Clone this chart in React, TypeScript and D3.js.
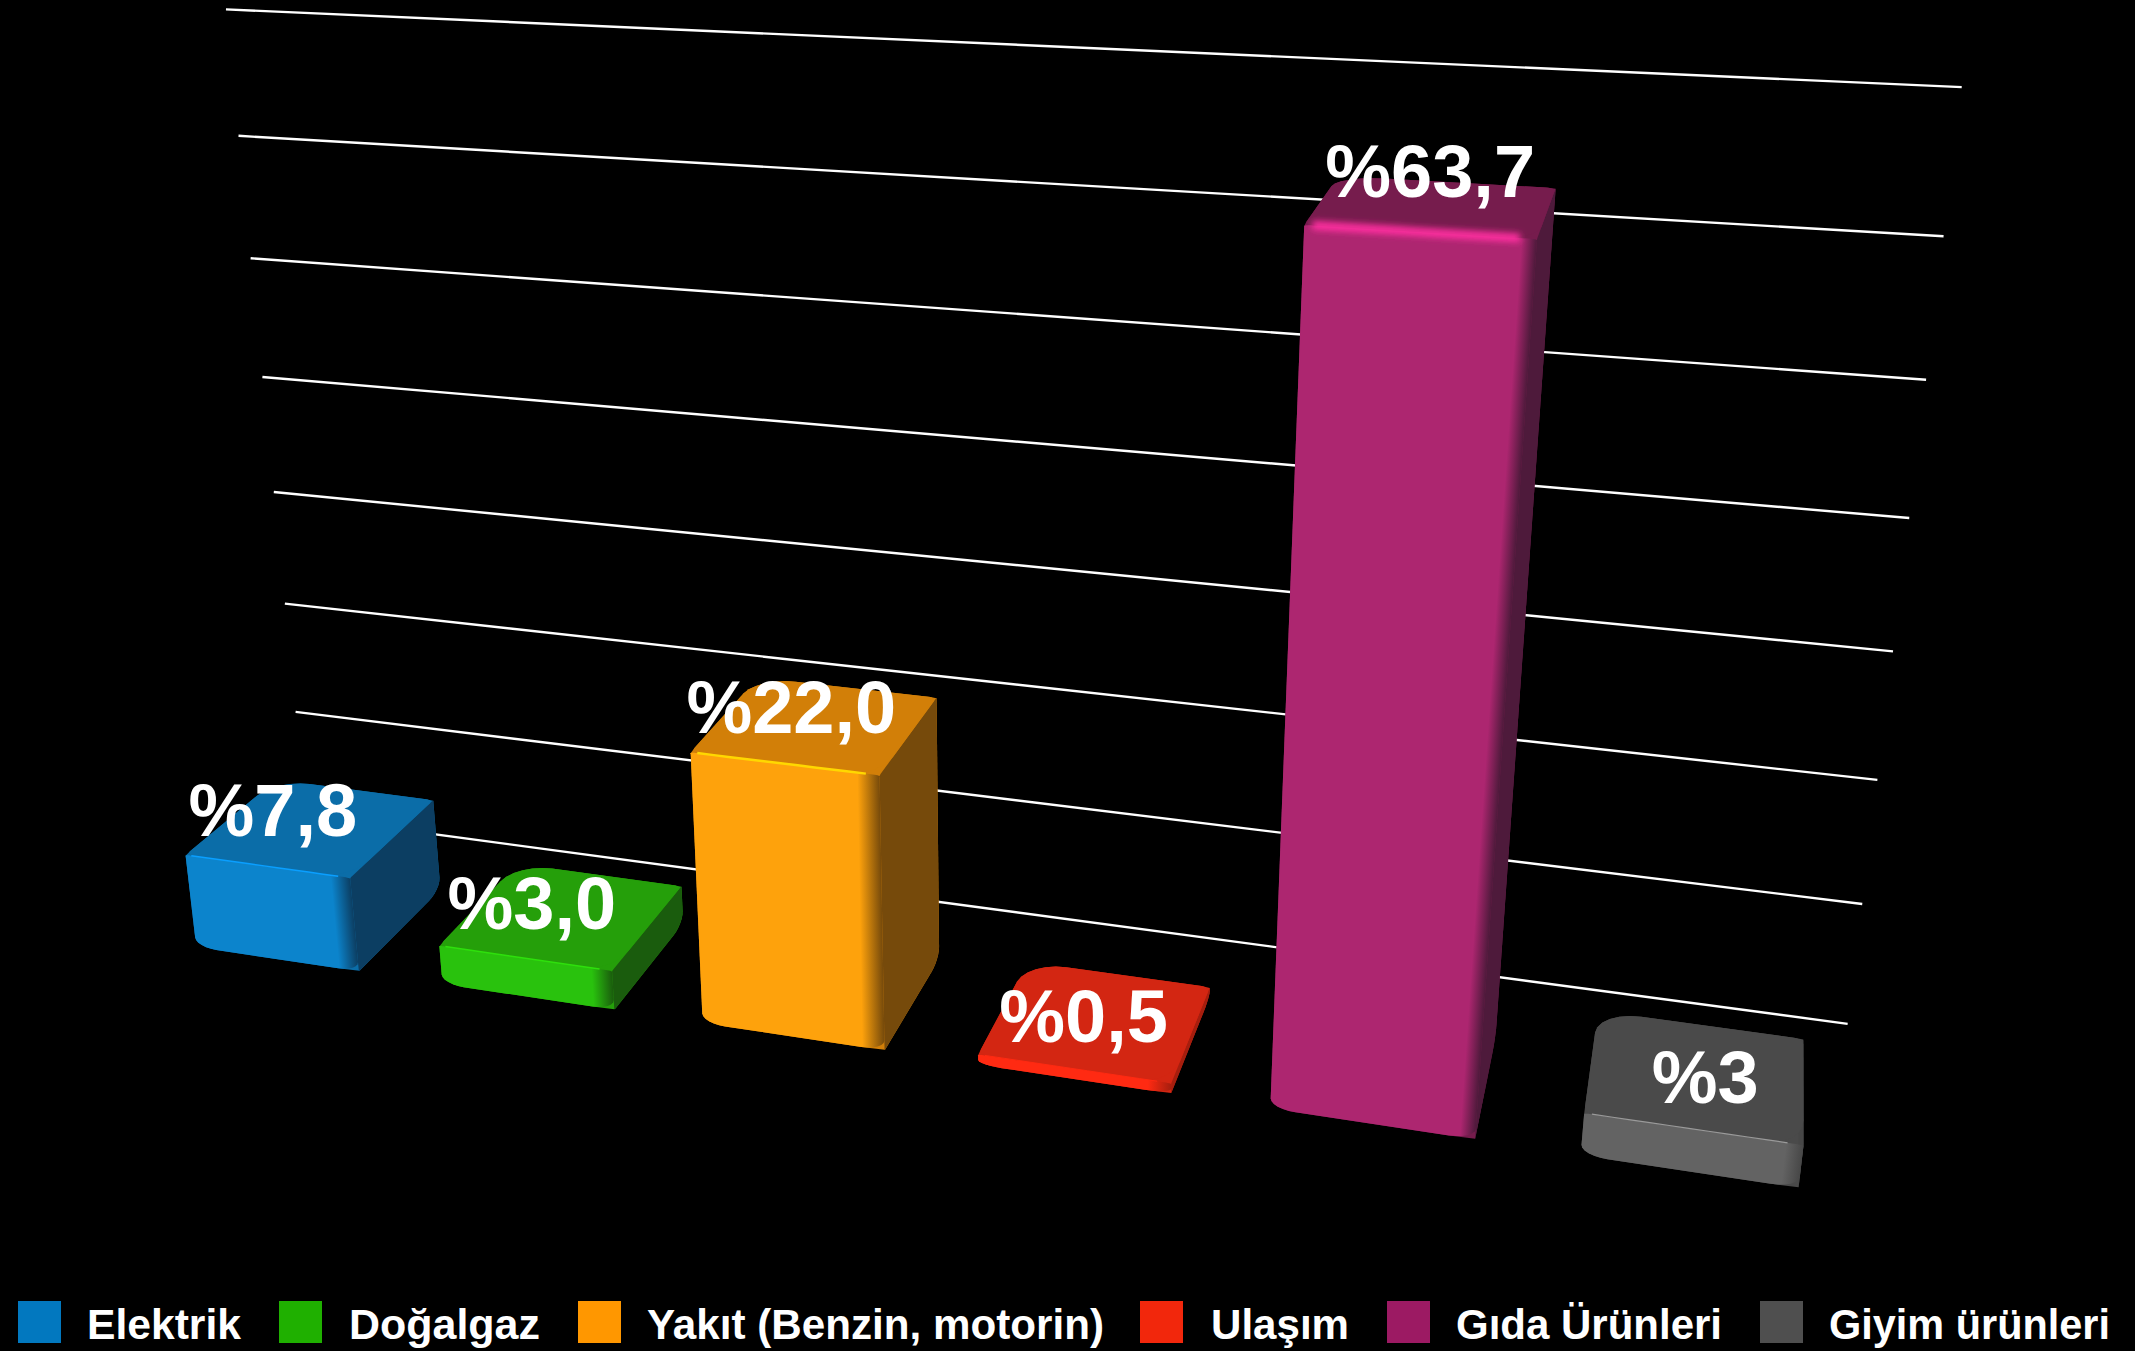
import React from "react";
import * as d3 from "d3";

const categories = ["Elektrik", "Doğalgaz", "Yakıt (Benzin, motorin)", "Ulaşım", "Gıda Ürünleri", "Giyim ürünleri"];
const values = [7.8, 3.0, 22.0, 0.5, 63.7, 3];
const valueLabels = ["%7,8", "%3,0", "%22,0", "%0,5", "%63,7", "%3"];
const gridValues = [0, 10, 20, 30, 40, 50, 60, 70];

const legendColors = ["#0278bf", "#1fb000", "#ff9700", "#f2270c", "#9c1a63", "#4f4f4f"];
const frontColors = ["#0c84cc", "#29c20d", "#fea20c", "#ff2a12", "#ad2670", "#636363"];
const topColors = ["#0b6da8", "#259f0a", "#d27f08", "#d32612", "#761c4d", "#4a4a4a"];
const sideColors = ["#0c3e62", "#1a5c0d", "#764a0b", "#a61e0e", "#4e1a3b", "#474747"];
const edgeColors = ["#0a9fff", "#2ee00c", "#ffd800", "#ff2a12", "#ff2fa0", "#9a9a9a"];
const edgeWidths = [1.5, 1.5, 2.5, 1, 9, 1.2];
const shadeStart = [0.88, 0.88, 0.88, 0.88, 0.93, 0.92];

// layout
const W = 2135, H = 1351;
const labelDx = [-39, -31, -25, -13, -3, 9];
const labelDy = [9, 14, 8.5, 22, -9, 28];
const legendSwatchX = [18, 279, 578, 1140, 1387, 1760];
const legendTextX = [87, 349, 647, 1211, 1456, 1829];
const legendTextW = [154, 191, 457, 138, 266, 281];

// perspective camera: origin + vanishing points
const O = [306, 817];
const VX = [-8690, -390], VY = [1009, 7912], VZ = [1800, -480];
const A = -0.1463, B = -0.1022;
const project = (x: number, y: number, z: number): [number, number] => {
  const w = 1 + A * x + B * y + z;
  return [
    (O[0] + A * VX[0] * x + B * VY[0] * y + z * VZ[0]) / w,
    (O[1] + A * VX[1] * x + B * VY[1] * y + z * VZ[1]) / w,
  ];
};

const yScale = d3.scaleLinear().domain([0, 70]).range([0, 1]);
const xBand = d3.scaleBand<string>().domain(categories).range([0.021, 0.973]).paddingInner(1 / 3).paddingOuter(0);
const zFront = -0.0857, zBack = -0.032, baseY = -0.005;
const line = d3.line();

type Radii = [number, number, number, number];
// rounded rectangle in parameter space; corners: [u0v0, u1v0, u1v1, u0v1]
function roundRect(u0: number, u1: number, v0: number, v1: number, ru: Radii, rv: Radii) {
  const pts: [number, number][] = [];
  const corner = (cu: number, cv: number, r: number, s: number, a0: number) => {
    for (const t of d3.range(0, 1.0001, 1 / 6)) {
      const an = a0 + (t * Math.PI) / 2;
      pts.push([cu + r * Math.cos(an), cv + s * Math.sin(an)]);
    }
  };
  corner(u0 + ru[0], v0 + rv[0], ru[0], rv[0], Math.PI);
  corner(u1 - ru[1], v0 + rv[1], ru[1], rv[1], Math.PI * 1.5);
  corner(u1 - ru[2], v1 - rv[2], ru[2], rv[2], 0);
  corner(u0 + ru[3], v1 - rv[3], ru[3], rv[3], Math.PI / 2);
  return pts;
}
const closed = (pts: [number, number][]) => line(pts) + "Z";

function Bar({ i }: { i: number }) {
  const cat = categories[i];
  const Y = yScale(values[i]);
  const xl = xBand(cat) as number;
  const xr = xl + xBand.bandwidth();
  const lim = Math.min((Y - baseY) * 0.45, 0.012);

  const top = roundRect(xl, xr, zFront, zBack,
    [0.005, 0.016, 0.005, 0.024], [0.003, 0.012, 0.003, 0.012]
  ).map(([u, v]) => project(u, Y, v));

  const frontPts = roundRect(xl, xr, baseY, Y, [0.014, 0.014, 0.004, 0.004], [lim, lim, 0.001, 0.001])
    .map(([u, v]) => project(u, v, zFront));

  const side = roundRect(zFront, zBack, baseY, Y, [0.001, 0.008, 0.001, 0.001], [0.001, lim * 1.3, 0.001, 0.001])
    .map(([z, v]) => project(xr, v, z));

  const hull = d3.polygonHull([...top, ...frontPts, ...side]) as [number, number][];
  const edge = d3.range(0, 1.0001, 0.1).map((t) => project(xl + 0.004 + (xr - xl - 0.012) * t, Y, zFront));

  // shade runs perpendicular to the bar's right edge
  const e0 = project(xr, baseY, zFront), e1 = project(xr, Y, zFront);
  const gA = project(xl, (Y + baseY) / 2, zFront), gB = project(xr, (Y + baseY) / 2, zFront);
  const ex = e1[0] - e0[0], ey = e1[1] - e0[1], el = Math.hypot(ex, ey);
  const nx = -ey / el, ny = ex / el;
  const d = (gB[0] - gA[0]) * nx + (gB[1] - gA[1]) * ny;
  const gid = `f${i}`;
  return (
    <g>
      <defs>
        <linearGradient id={gid} gradientUnits="userSpaceOnUse" x1={gA[0]} y1={gA[1]} x2={gA[0] + nx * d} y2={gA[1] + ny * d}>
          <stop offset="0" stopColor={frontColors[i]} />
          <stop offset={shadeStart[i]} stopColor={frontColors[i]} />
          <stop offset="1" stopColor={sideColors[i]} />
        </linearGradient>
      </defs>
      <path d={closed(hull)} fill={topColors[i]} />
      <path d={closed(side)} fill={sideColors[i]} />
      <path d={closed(frontPts)} fill={`url(#${gid})`} />
      <path d={closed(top)} fill={topColors[i]} />
      <path d={line(edge) as string} fill="none" stroke={edgeColors[i]} strokeWidth={edgeWidths[i]}
        filter={edgeWidths[i] > 3 ? "url(#soft)" : undefined} />
    </g>
  );
}

export default function App() {
  return (
    <svg width={W} height={H} viewBox={`0 0 ${W} ${H}`}
      style={{ position: "absolute", left: 0, top: 0, display: "block", background: "#000" }}>
      <defs>
        <filter id="soft" x="-10%" y="-200%" width="120%" height="500%">
          <feGaussianBlur stdDeviation="3" />
        </filter>
      </defs>
      <rect width={W} height={H} fill="#000" />
      {gridValues.map((v) => {
        const a = project(0, yScale(v), 0), b = project(1, yScale(v), 0);
        return <line key={v} x1={a[0]} y1={a[1]} x2={b[0]} y2={b[1]} stroke="#fff" strokeWidth={2.4} />;
      })}
      {categories.map((c, i) => <Bar key={c} i={i} />)}
      {categories.map((c, i) => {
        const cx = (xBand(c) as number) + xBand.bandwidth() / 2;
        const p = project(cx, yScale(values[i]), (zFront + zBack) / 2);
        return (
          <text key={c} x={p[0] + labelDx[i]} y={p[1] + labelDy[i]} textAnchor="middle"
            fontFamily="'Liberation Sans', Arial, sans-serif" fontWeight={700} fontSize={74} fill="#fff">
            {valueLabels[i]}
          </text>
        );
      })}
      {categories.map((c, i) => (
        <g key={c}>
          <rect x={legendSwatchX[i]} y={1301} width={43} height={42} fill={legendColors[i]} />
          <text x={legendTextX[i]} y={1339} textLength={legendTextW[i]} lengthAdjust="spacingAndGlyphs"
            fontFamily="'Liberation Sans', Arial, sans-serif" fontWeight={700} fontSize={43} fill="#fff">
            {c}
          </text>
        </g>
      ))}
    </svg>
  );
}
